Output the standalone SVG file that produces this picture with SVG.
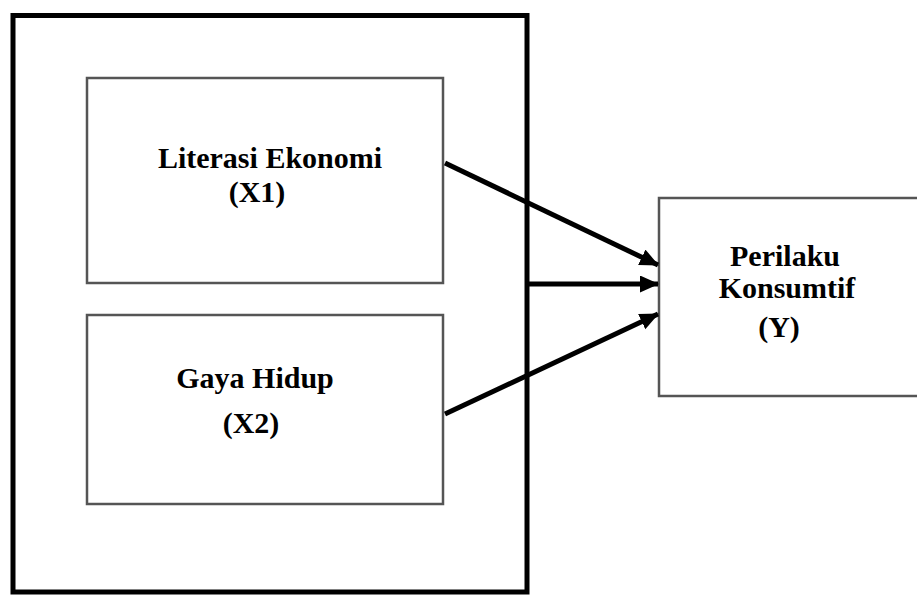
<svg xmlns="http://www.w3.org/2000/svg" width="917" height="597" viewBox="0 0 917 597">
<style>
.box{fill:#fff;stroke:#555;stroke-width:2.5}
.outer{fill:#fff;stroke:#000;stroke-width:5}
.lbl{font-family:"Liberation Serif","Times New Roman",serif;font-weight:bold;font-size:30px;fill:#000;text-anchor:middle}
.arr{stroke:#000;stroke-width:5;fill:none;marker-end:url(#ah)}
</style>
<defs>
<marker id="ah" markerUnits="userSpaceOnUse" markerWidth="20" markerHeight="18" refX="18" refY="8.5" orient="auto">
<path d="M0,0 L19,8.5 L0,17 z" fill="#000"/>
</marker>
</defs>
<rect width="917" height="597" fill="#fff"/>
<g id="outer"><rect class="outer" x="13" y="15.5" width="514" height="576.5"/></g>
<g id="x1">
<rect class="box" x="87" y="78" width="356" height="205"/>
<text class="lbl" x="270" y="168">Literasi Ekonomi</text>
<text class="lbl" x="257" y="202">(X1)</text>
</g>
<g id="x2">
<rect class="box" x="87" y="315" width="356" height="189"/>
<text class="lbl" x="255" y="388">Gaya Hidup</text>
<text class="lbl" x="251" y="433">(X2)</text>
</g>
<g id="y">
<rect class="box" x="659" y="198" width="270" height="198"/>
<text class="lbl" x="785" y="266">Perilaku</text>
<text class="lbl" x="787" y="298">Konsumtif</text>
<text class="lbl" x="779" y="337">(Y)</text>
</g>
<g id="connectors">
<line class="arr" x1="445" y1="163" x2="658" y2="265"/>
<line class="arr" x1="527" y1="284" x2="658" y2="284"/>
<line class="arr" x1="445" y1="414" x2="658" y2="314"/>
</g>
</svg>
